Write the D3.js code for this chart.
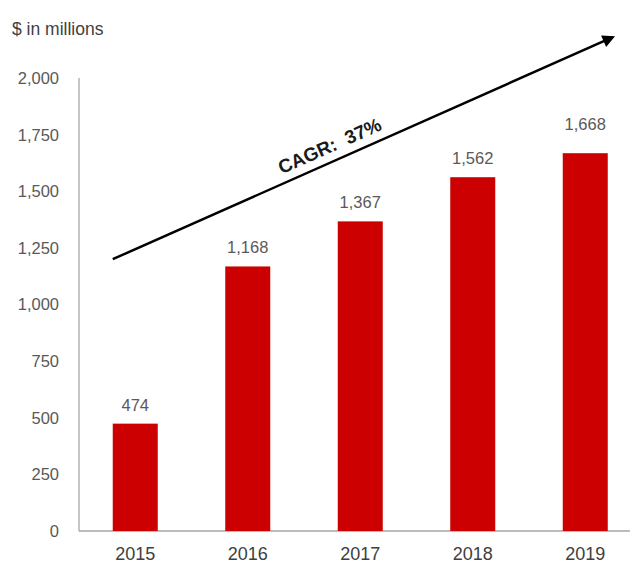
<html>
<head>
<script src="https://d3js.org/d3.v7.min.js"></script>
<style>
  body { margin: 0; background: #fff; }
  text { font-family: "Liberation Sans", Arial, sans-serif; }
</style>
</head>
<body>
<svg id="chart" width="630" height="565"></svg>
<script>
var years = ["2015", "2016", "2017", "2018", "2019"];
var revenue = [474, 1168, 1367, 1562, 1668];
var yTicks = [0, 250, 500, 750, 1000, 1250, 1500, 1750, 2000];
var unitLabel = "$ in millions";
var cagrLabel = "CAGR:  37%";

var svg = d3.select("#chart");

var x = d3.scaleBand()
  .domain(years)
  .range([79, 641.5])
  .paddingInner(0.6)
  .paddingOuter(0.3);

var y = d3.scaleLinear()
  .domain([0, 2000])
  .range([531, 78]);

var grey = "#595959";

// axis lines
svg.append("line")
  .attr("x1", 79).attr("x2", 79)
  .attr("y1", y(2000)).attr("y2", y(0))
  .attr("stroke", "#a6a6a6").attr("stroke-width", 1.3);
svg.append("line")
  .attr("x1", 79).attr("x2", 630)
  .attr("y1", y(0)).attr("y2", y(0))
  .attr("stroke", "#a6a6a6").attr("stroke-width", 1.3);

// y tick labels
svg.selectAll(".ytick")
  .data(yTicks)
  .enter().append("text")
  .attr("class", "ytick")
  .attr("x", 59)
  .attr("y", function(d){ return y(d); })
  .attr("dy", "0.36em")
  .attr("text-anchor", "end")
  .style("font-size", "16.5px")
  .attr("fill", grey)
  .text(function(d){ return d3.format(",")(d); });

// unit label
svg.append("text")
  .attr("x", 12).attr("y", 35)
  .style("font-size", "17.5px")
  .attr("fill", "#404040")
  .text(unitLabel);

// bars
var data = years.map(function(yr, i){ return {year: yr, value: revenue[i]}; });

svg.selectAll(".bar")
  .data(data)
  .enter().append("rect")
  .attr("class", "bar")
  .attr("x", function(d){ return x(d.year); })
  .attr("width", x.bandwidth())
  .attr("y", function(d){ return y(d.value); })
  .attr("height", function(d){ return y(0) - y(d.value); })
  .attr("fill", "#cc0000");

// value labels
svg.selectAll(".val")
  .data(data)
  .enter().append("text")
  .attr("class", "val")
  .attr("x", function(d){ return x(d.year) + x.bandwidth()/2; })
  .attr("y", function(d){ return y(d.value) - (d.year == "2019" ? 23 : 13); })
  .attr("text-anchor", "middle")
  .style("font-size", "16.5px")
  .attr("fill", grey)
  .text(function(d){ return d3.format(",")(d.value); });

// x labels
svg.selectAll(".xlab")
  .data(years)
  .enter().append("text")
  .attr("class", "xlab")
  .attr("x", function(d){ return x(d) + x.bandwidth()/2; })
  .attr("y", 560)
  .attr("text-anchor", "middle")
  .style("font-size", "18px")
  .attr("fill", "#404040")
  .text(function(d){ return d; });

// CAGR arrow
svg.append("defs").append("marker")
  .attr("id", "head")
  .attr("viewBox", "0 0 10 10")
  .attr("refX", 8).attr("refY", 5)
  .attr("markerWidth", 6).attr("markerHeight", 5)
  .attr("markerUnits", "strokeWidth")
  .attr("orient", "auto")
  .append("path")
  .attr("d", "M0,0 L10,5 L0,10 z")
  .attr("fill", "#000");

var ax1 = x("2015"), ay1 = y(1200);
var ax2 = x("2019") + x.bandwidth() + 5, ay2 = y(2180);
svg.append("line")
  .attr("x1", ax1).attr("y1", ay1)
  .attr("x2", ax2).attr("y2", ay2)
  .attr("stroke", "#000")
  .attr("stroke-width", 2.5)
  .attr("marker-end", "url(#head)");

var angle = Math.atan2(ay2 - ay1, ax2 - ax1) * 180 / Math.PI;
var tx = 336, ty = ay1 + (tx - ax1) * (ay2 - ay1) / (ax2 - ax1);
svg.append("text")
  .attr("transform", "translate(" + tx + "," + ty + ") rotate(" + angle + ")")
  .attr("y", -9)
  .attr("text-anchor", "middle")
  .style("font-size", "19px")
  .style("font-weight", "bold")
  .style("white-space", "pre")
  .attr("fill", "#1a1a1a")
  .text(cagrLabel);
</script>
</body>
</html>
